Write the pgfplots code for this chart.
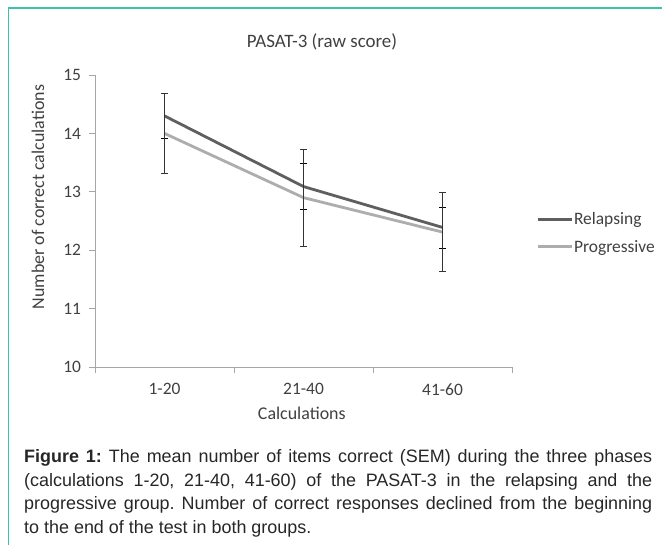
\documentclass[border=0pt]{standalone}
\usepackage{fontspec}
\setmainfont{Carlito}
\newfontfamily\capfont{Liberation Sans}
\usepackage{pgfplots}
\pgfplotsset{compat=1.18}
\definecolor{rel}{HTML}{5F5F5F}
\definecolor{prog}{HTML}{ADADAD}
\definecolor{framec}{HTML}{3CC3A5}
\definecolor{axgray}{HTML}{A6A6A6}
\definecolor{txt}{HTML}{404040}

\pgfplotstableread{
x y e
0 14.30 0.38
1 13.09 0.39
2 12.39 0.35
}\relapsing
\pgfplotstableread{
x y e
0 14.00 0.69
1 12.90 0.83
2 12.31 0.68
}\progressive

\begin{document}
\begin{tikzpicture}[x=1bp,y=1bp]
\path[use as bounding box] (0,0) rectangle (662,-545);
\draw[framec, line width=1.6bp] (8.5,-545) -- (8.5,-8) -- (662,-8);
\node[font=\fontsize{19}{22}\selectfont, text=txt] at (322,-42) {PASAT-3 (raw score)};
\begin{axis}[
  at={(95bp,-367bp)}, anchor=south west,
  scale only axis, width=417bp, height=292bp,
  xmin=-0.5, xmax=2.5, ymin=10, ymax=15,
  axis lines*=left,
  axis line style={axgray, line width=0.8bp},
  tick align=outside,
  major tick length=6bp,
  minor tick length=6bp,
  tick style={axgray, line width=0.8bp},
  xtick={0,1,2}, xticklabels={1-20,21-40,41-60},
  minor xtick={-0.5,0.5,1.5,2.5},
  every major x tick/.append style={draw=none},
  ytick={10,11,12,13,14,15},
  tick label style={font=\fontsize{17.5}{20}\selectfont, text=txt},
  /pgf/number format/assume math mode=true,
  yticklabel style={xshift=-4.5bp},
  xticklabel style={yshift=-7bp},
  xlabel={Calculations}, ylabel={Number of correct calculations},
  label style={font=\fontsize{18}{21}\selectfont, text=txt},
  xlabel style={at={(axis description cs:0.496,-0.157)}, anchor=center},
  ylabel style={at={(axis description cs:-0.1367,0.582)}, anchor=center},
  legend style={at={(axis description cs:1.0576,0.459)}, anchor=west,
    draw=none, fill=none, inner sep=0pt, row sep=12bp,
    font=\fontsize{17.5}{20}\selectfont, nodes={inner sep=1bp, text=txt}},
  legend cell align=left,
  legend image code/.code={\draw[#1] (0bp,0bp) -- (34bp,0bp);},
  legend image post style={line width=2.8bp},
  clip=false,
]
\addplot[rel, line width=2.8bp, error bars/.cd, y dir=both, y explicit,
  error bar style={black, line width=0.7bp},
  error mark options={rotate=90, black, line width=0.7bp, mark size=3.5bp}]
  table[x=x, y=y, y error=e] {\relapsing};
\addlegendentry{Relapsing}
\addplot[prog, line width=2.8bp, error bars/.cd, y dir=both, y explicit,
  error bar style={black!80, line width=0.7bp},
  error mark options={rotate=90, black!80, line width=0.7bp, mark size=3.5bp}]
  table[x=x, y=y, y error=e] {\progressive};
\addlegendentry{Progressive}
\end{axis}
\node[anchor=north west, inner sep=0pt, text width=628bp, align=justify,
  font=\capfont\fontsize{18}{23.5}\selectfont\frenchspacing, text=black!85] at (24,-449.6)
  {\textbf{Figure 1:} The mean number of items correct (SEM) during the three phases\linebreak
  (calculations 1-20, 21-40, 41-60) of the PASAT-3 in the relapsing and the\linebreak
  progressive group. Number of correct responses declined from the beginning\linebreak
  to the end of the test in both groups.};
\end{tikzpicture}
\end{document}
